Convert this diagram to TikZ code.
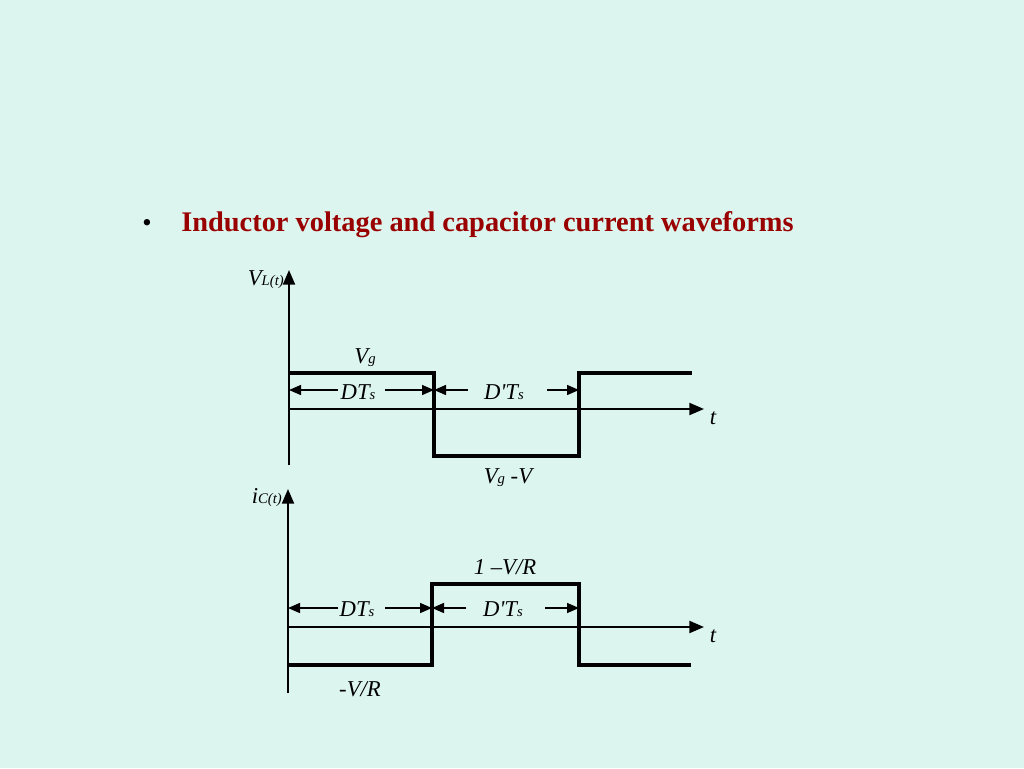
\documentclass[tikz,border=0pt]{standalone}
\usepackage{fontspec}
\setmainfont{Liberation Serif}
\usetikzlibrary{arrows.meta}
\definecolor{bgmint}{RGB}{221,245,239}
\definecolor{titlered}{RGB}{153,0,0}
\tikzset{
  axis/.style={line width=1.6pt, -{Triangle[length=11pt,width=9pt]}},
  wave/.style={line width=2.4pt, line join=miter},
  dim/.style={line width=1.1pt, -{Triangle[length=9pt,width=7.5pt]}},
  lbl/.style={font=\fontsize{17}{17}\selectfont\itshape, inner sep=0pt},
}
\newcommand{\sm}[1]{{\fontsize{11}{11}\selectfont #1}}
\newcommand{\dpr}{D\textquotesingle T}
\begin{document}
\begin{tikzpicture}[x=0.75pt, y=-0.75pt]
\fill[bgmint] (0,0) rectangle (1024,768);
\useasboundingbox (0,0) rectangle (1024,768);
% title
\node[anchor=base west, inner sep=0pt, font=\fontsize{20}{20}\selectfont] (bullet) at (142,231) {\textbullet};
\node[anchor=base west, inner sep=0pt, text=titlered, font=\fontsize{21.3}{21.3}\selectfont\bfseries] (title) at (181,231) {Inductor voltage and capacitor current waveforms};
% inductor voltage
\coordinate (va0) at (289,465);
\coordinate (va1) at (289,270);
\coordinate (ta0) at (289,409);
\coordinate (ta1) at (704,409);
\draw[axis] (va0) -- (va1);
\draw[axis] (ta0) -- (ta1);
\draw[wave] (289,373) -- (434,373) -- (434,456) -- (579,456) -- (579,373) -- (692,373);
\draw[dim] (338,390) -- (289,390);
\draw[dim] (385,390) -- (434,390);
\draw[dim] (468,390) -- (434,390);
\draw[dim] (547,390) -- (579,390);
\node[lbl] (vg) at (365,358) {V\sm{g}};
\node[lbl] (dts1) at (358,392) {DT\sm{s}};
\node[lbl] (dpts1) at (504,392) {\dpr\sm{s}};
\node[lbl] (t1) at (713,418) {t};
\node[lbl] (vgv) at (508,478) {V\sm{g} -V};
\node[lbl, anchor=east] (vl) at (284,280) {V\sm{L(t)}};
% capacitor current
\coordinate (ia0) at (288,693);
\coordinate (ia1) at (288,489);
\coordinate (tb0) at (288,627);
\coordinate (tb1) at (704,627);
\draw[axis] (ia0) -- (ia1);
\draw[axis] (tb0) -- (tb1);
\draw[wave] (288,665) -- (432,665) -- (432,584) -- (579,584) -- (579,665) -- (691,665);
\draw[dim] (338,608) -- (288,608);
\draw[dim] (385,608) -- (432,608);
\draw[dim] (466,608) -- (432,608);
\draw[dim] (545,608) -- (579,608);
\node[lbl] (ivr) at (505,567) {1 --V/R};
\node[lbl] (dts2) at (357,609) {DT\sm{s}};
\node[lbl] (dpts2) at (503,609) {\dpr\sm{s}};
\node[lbl] (t2) at (713,636) {t};
\node[lbl] (mvr) at (360,689) {-V/R};
\node[lbl, anchor=east] (ic) at (282,498) {i\sm{C(t)}};
\end{tikzpicture}
\end{document}
